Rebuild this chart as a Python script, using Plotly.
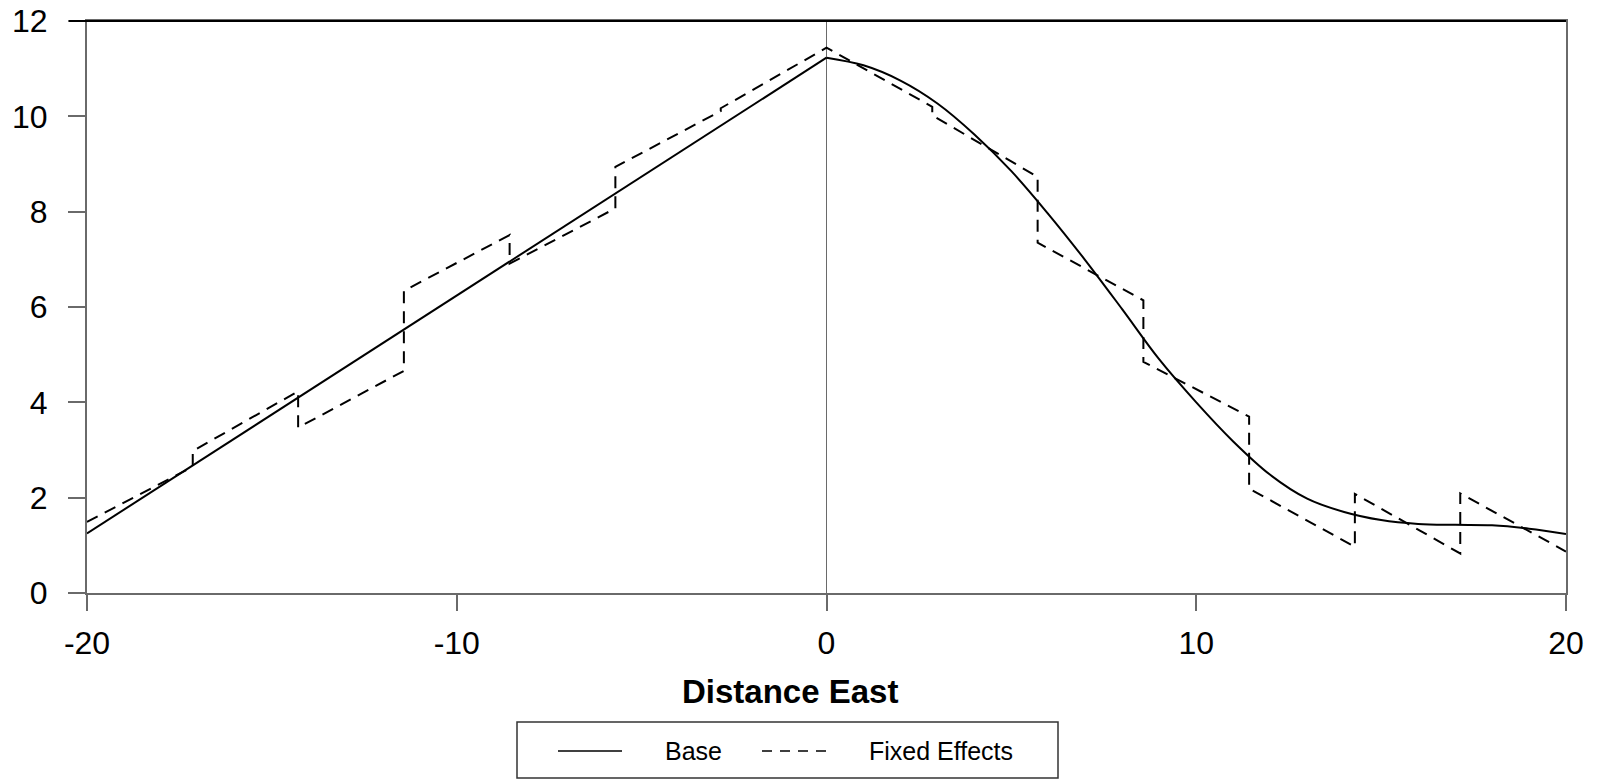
import plotly.graph_objects as go

# ---- data ----
base_left_x = [-20, -10, 0]
base_left_y = [1.25, 6.24, 11.23]

base_right_x = [0, 1, 2, 3, 4, 5, 6, 7, 8, 9, 10, 11, 12, 13, 14, 15, 16, 17, 18, 19, 20]
base_right_y = [11.23, 11.07, 10.75, 10.27, 9.62, 8.85, 7.95, 6.98, 5.95, 4.90, 4.00,
                3.18, 2.48, 1.98, 1.70, 1.53, 1.45, 1.43, 1.42, 1.35, 1.24]

fe_x = [-20, -17.14, -17.14, -14.29, -14.29, -11.43, -11.43, -8.57, -8.57, -5.71, -5.71,
        -2.86, -2.86, 0, 2.86, 2.86, 5.71, 5.71, 8.57, 8.57, 11.43, 11.43, 14.29, 14.29,
        17.14, 17.14, 20]
fe_y = [1.49, 2.65, 2.98, 4.23, 3.47, 4.66, 6.34, 7.51, 6.91, 8.07, 8.94,
        10.11, 10.17, 11.44, 10.20, 10.02, 8.73, 7.35, 6.14, 4.85, 3.70, 2.19, 0.97, 2.08,
        0.83, 2.09, 0.87]

x_ticks = [-20, -10, 0, 10, 20]
x_tick_labels = ["-20", "-10", "0", "10", "20"]
y_ticks = [0, 2, 4, 6, 8, 10, 12]
x_title = "Distance East"
legend_labels = ["Base", "Fixed Effects"]

# ---- layout geometry (pixels) ----
W, H = 1598, 780
L, R, T, B = 87, 32, 21, 187
PW = W - L - R
PH = H - T - B


def px_x(p):
    return (p - L) / PW


def px_y(p):
    return (H - B - p) / PH


FONT = "Liberation Sans, Arial, sans-serif"
AXIS_GRAY = "#6a6a6a"

fig = go.Figure()
fig.add_trace(go.Scatter(x=base_left_x, y=base_left_y, mode="lines", name=legend_labels[0],
                         legendgroup="base", line=dict(color="black", width=2),
                         showlegend=False))
fig.add_trace(go.Scatter(x=base_right_x, y=base_right_y, mode="lines", name=legend_labels[0],
                         legendgroup="base", line=dict(color="black", width=2, shape="spline",
                                                       smoothing=1.0),
                         showlegend=False))
fig.add_trace(go.Scatter(x=fe_x, y=fe_y, mode="lines", name=legend_labels[1],
                         line=dict(color="black", width=2, dash="12px,8px"),
                         showlegend=False))

fig.update_layout(
    width=W, height=H,
    margin=dict(l=L, r=R, t=T, b=B, pad=0, autoexpand=False),
    paper_bgcolor="white", plot_bgcolor="white",
    font=dict(family=FONT, color="black"),
    showlegend=False,
    xaxis=dict(range=[-20, 20], tickvals=x_ticks, ticktext=x_tick_labels,
               ticks="outside", ticklen=16, automargin=False,
               tickwidth=1.5, tickcolor=AXIS_GRAY, showline=True, linecolor=AXIS_GRAY,
               linewidth=2, mirror=True, showgrid=False, zeroline=True,
               zerolinecolor=AXIS_GRAY, zerolinewidth=1.3,
               tickfont=dict(size=32, family=FONT, color="black"),
               ticklabelstandoff=5),
    yaxis=dict(range=[0, 12], tickvals=y_ticks, ticks="outside", ticklen=17,
               automargin=False,
               tickwidth=1.5, tickcolor=AXIS_GRAY, showline=True, linecolor=AXIS_GRAY,
               linewidth=2, mirror=True, showgrid=False, zeroline=False,
               tickfont=dict(size=32, family=FONT, color="black"),
               ticklabelstandoff=14),
)

shapes = [
    # black top border
    dict(type="line", xref="paper", yref="paper", x0=px_x(69), x1=1, y0=1, y1=1,
         line=dict(color="black", width=2)),
    # legend box
    dict(type="rect", xref="paper", yref="paper", x0=px_x(517), x1=px_x(1058),
         y0=px_y(778), y1=px_y(722), line=dict(color="#333333", width=1.5)),
    # legend samples
    dict(type="line", xref="paper", yref="paper", x0=px_x(558), x1=px_x(622),
         y0=px_y(751), y1=px_y(751), line=dict(color="black", width=1.5)),
    dict(type="line", xref="paper", yref="paper", x0=px_x(762), x1=px_x(828),
         y0=px_y(751), y1=px_y(751), line=dict(color="black", width=1.5, dash="10px,8px")),
]
fig.update_layout(shapes=shapes)

annotations = [
    dict(text="<b>" + x_title + "</b>", xref="paper", yref="paper", x=px_x(790), y=px_y(691),
         xanchor="center", yanchor="middle", showarrow=False,
         font=dict(size=33, family=FONT, color="black")),
    dict(text=legend_labels[0], xref="paper", yref="paper", x=px_x(663), y=px_y(751),
         xanchor="left", yanchor="middle", showarrow=False,
         font=dict(size=25, family=FONT, color="black")),
    dict(text=legend_labels[1], xref="paper", yref="paper", x=px_x(867), y=px_y(751),
         xanchor="left", yanchor="middle", showarrow=False,
         font=dict(size=25, family=FONT, color="black")),
]
fig.update_layout(annotations=annotations)

fig.write_html("out.html")
